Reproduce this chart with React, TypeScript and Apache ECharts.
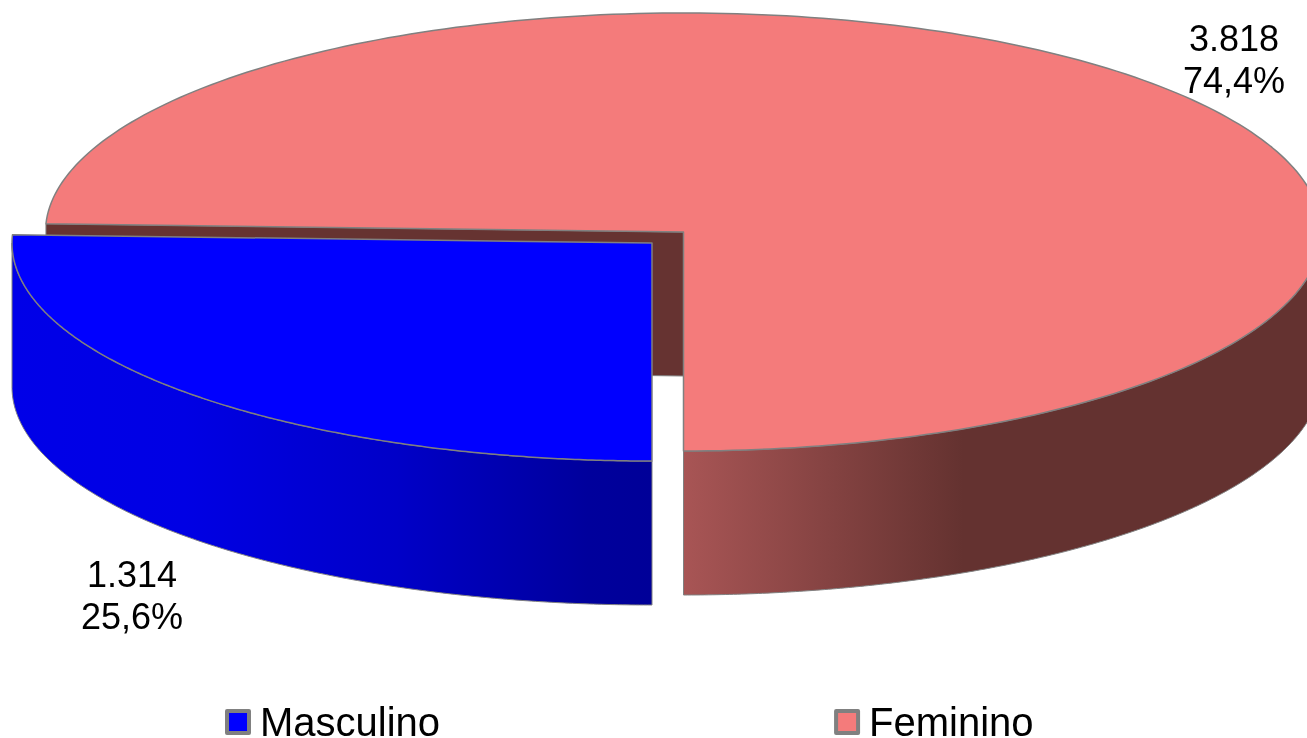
import React, { useEffect, useRef } from "react";
import * as echarts from "echarts";

const categories = ["Masculino", "Feminino"];
const counts = [1314, 3818];
const valueLabels = ["1.314", "3.818"];
const percentLabels = ["25,6%", "74,4%"];

const total = counts.reduce((a, b) => a + b, 0);
const START_DEG = 180; // first slice starts at 6 o'clock, clockwise
const STEPS = 240;
const FONT = "'Liberation Sans', Arial, sans-serif";
const EDGE = "#808080";

const sliceLayout = [
  { cx: 652, cy: 243, rx: 640, ry: 218, depth: 144, top: "#0000ff",
    wall: [
      { offset: 0, color: "#0000e8" },
      { offset: 0.27, color: "#0000e4" },
      { offset: 0.6, color: "#0000c8" },
      { offset: 0.9, color: "#00009c" },
      { offset: 1, color: "#000098" },
    ], gx: [12, 652],
    inner: "#00009c", labelX: 132, labelY: 595 },
  { cx: 683.5, cy: 232, rx: 638, ry: 219, depth: 144, top: "#f47b7b",
    wall: [{ offset: 0, color: "#a85555" }, { offset: 1, color: "#643230" }], gx: [684, 963],
    inner: "#663331", labelX: 1234, labelY: 59 },
];

function sweep(index: number) {
  let start = START_DEG;
  for (let i = 0; i < index; i++) start += (counts[i] / total) * 360;
  return [start, start + (counts[index] / total) * 360];
}

function arc(l: any, a: number, b: number, dy = 0) {
  const pts: number[][] = [];
  for (let i = 0; i <= STEPS; i++) {
    const t = ((a + ((b - a) * i) / STEPS) * Math.PI) / 180;
    pts.push([l.cx + l.rx * Math.sin(t), l.cy - l.ry * Math.cos(t) + dy]);
  }
  return pts;
}

function renderSlice(index: number) {
  const l = sliceLayout[index];
  const [a, b] = sweep(index);
  const topStroke = { stroke: EDGE, lineWidth: 1.5, lineJoin: "round" };
  const wallStroke = { stroke: EDGE, lineWidth: 1, lineJoin: "round" };
  const children: any[] = [];

  // radial cut face that looks toward the viewer (the one near 9 o'clock)
  const faceAngle = index === 1 ? a : null;
  if (faceAngle !== null) {
    const rim = arc(l, faceAngle, faceAngle)[0];
    children.push({
      type: "polygon",
      shape: { points: [rim, [l.cx, l.cy], [l.cx, l.cy + l.depth], [rim[0], rim[1] + l.depth]] },
      style: { fill: l.inner, ...wallStroke },
    });
  }

  // outer wall: only the part of the rim on the lower half of the ellipse
  const lowA = index === 1 ? 450 : Math.max(a, 90);
  const lowB = index === 1 ? 540 : Math.min(b, 270);
  const upper = arc(l, lowA, lowB);
  const lower = arc(l, lowA, lowB, l.depth).reverse();
  children.push({
    type: "polygon",
    shape: { points: upper.concat(lower) },
    style: {
      fill: new echarts.graphic.LinearGradient(l.gx[0], 0, l.gx[1], 0, l.wall, true),
      ...wallStroke,
    },
  });

  // top face
  children.push({
    type: "polygon",
    shape: { points: [[l.cx, l.cy] as number[]].concat(arc(l, a, b)) },
    style: { fill: l.top, ...topStroke },
  });

  children.push({
    type: "text",
    x: l.labelX,
    y: l.labelY,
    style: {
      text: valueLabels[index] + "\n" + percentLabels[index],
      fontFamily: FONT,
      fontSize: 36,
      lineHeight: 42,
      fill: "#000000",
      align: "center",
      verticalAlign: "middle",
    },
  });
  return { type: "group", children };
}

export default function App() {
  const ref = useRef<HTMLDivElement>(null);
  useEffect(() => {
    const chart = echarts.init(ref.current!, null, { renderer: "svg" });
    // red slice is drawn first so that the exploded blue slice sits on top of it
    const order = [1, 0];
    chart.setOption({
      animation: false,
      legend: {
        left: 225,
        top: 702,
        itemWidth: 22,
        itemHeight: 22,
        itemGap: 394,
        padding: 0,
        data: categories.map((name, i) => ({
          name,
          icon: "rect",
          itemStyle: { color: sliceLayout[i].top, borderColor: EDGE, borderWidth: 4, borderJoin: "round" },
        })),
        textStyle: {
          fontFamily: FONT,
          fontSize: 40,
          lineHeight: 30,
          color: "#000000",
          padding: [0, 0, 0, 6],
        },
      },
      series: order.map((i) => ({
        type: "custom",
        name: categories[i],
        coordinateSystem: "none",
        silent: true,
        itemStyle: { color: sliceLayout[i].top },
        data: [{ name: categories[i], value: counts[i] }],
        renderItem: () => renderSlice(i),
      })),
    });
    return () => chart.dispose();
  }, []);
  return <div ref={ref} style={{ position: "fixed", left: 0, top: 0, width: 1307, height: 738 }} />;
}
